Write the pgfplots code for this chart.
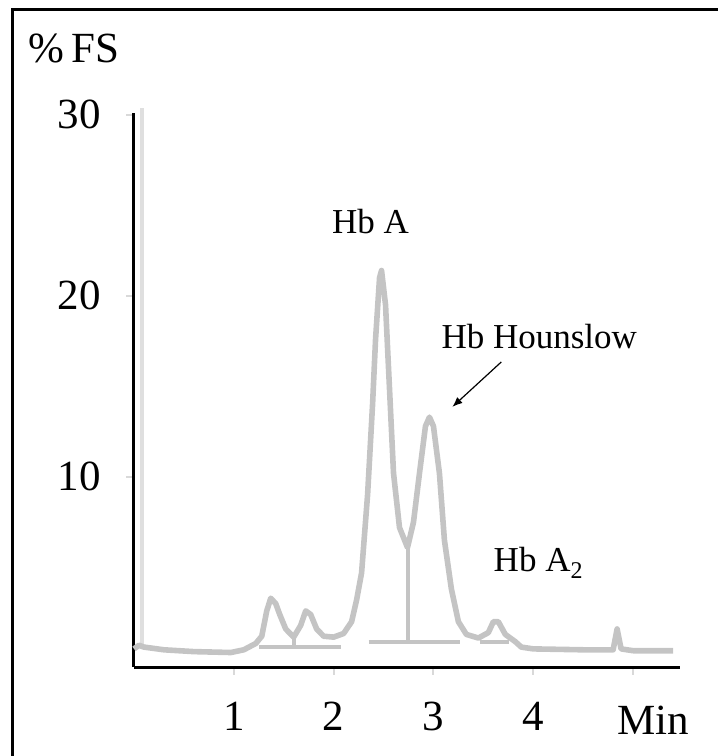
\documentclass[border=0pt]{standalone}
\usepackage{fontspec}
\setmainfont{Liberation Serif}
\usepackage{pgfplots}
\pgfplotsset{compat=1.18}
\usetikzlibrary{arrows.meta}
\definecolor{trace}{HTML}{C4C4C4}
\newcommand{\tickfont}{\fontsize{21.5}{24}\selectfont}
\newcommand{\annfont}{\fontsize{17.5}{20}\selectfont}

\begin{document}
\begin{tikzpicture}
\path[use as bounding box] (0,0) rectangle (359pt,378pt);
% outer frame, only left and top edges show in the picture
\draw[line width=1.5pt] (6pt,0) -- (6pt,373pt) -- (359pt,373pt);
\node[anchor=west, font=\tickfont, inner sep=0pt] at (14pt,354pt) {\%\,FS};
\node[font=\tickfont, inner sep=0pt] at (326.5pt,18pt) {Min};

\begin{axis}[
  at={(67pt,44.5pt)}, anchor=south west,
  scale only axis, width=273pt, height=277pt,
  xmin=0, xmax=5.47, ymin=-0.5, ymax=30.1,
  axis x line=bottom, axis y line=left,
  axis line style={line width=1.5pt, -},
  xtick={1,2,3,4,5}, xticklabels={1,2,3,4,{}},
  ytick={10,20,30},
  tick align=outside,
  major tick length=4pt,
  tick style={draw=gray!30, line width=1pt},
  ticklabel style={font=\tickfont},
  yticklabel style={xshift=-9pt},
  xticklabel style={yshift=-10pt},
  /pgf/number format/assume math mode=true,
  clip=false,
]
% light vertical trace next to the axis
\addplot[draw=trace!55, line width=2pt] coordinates {(0.08,0.5) (0.08,30.4)};
% integration baselines and drop lines
\addplot[draw=trace, line width=2pt] coordinates {(1.25,0.6) (2.07,0.6)};
\addplot[draw=trace, line width=2pt] coordinates {(2.35,0.9) (3.27,0.9)};
\addplot[draw=trace, line width=2pt] coordinates {(3.47,0.9) (3.76,0.9)};
\addplot[draw=trace, line width=2pt] coordinates {(2.74,0.9) (2.74,6.1)};
\addplot[draw=trace, line width=2pt] coordinates {(1.6,0.6) (1.6,1.15)};
% chromatogram
\addplot[draw=trace, line width=2.8pt, line join=round] coordinates {
(0.0,0.5)(0.05,0.7)(0.1,0.6)(0.3,0.45)(0.6,0.35)(0.97,0.3)(1.1,0.45)
(1.22,0.8)(1.28,1.2)(1.33,2.6)(1.37,3.3)(1.42,3.0)(1.46,2.4)(1.52,1.6)
(1.6,1.15)(1.67,1.8)(1.72,2.6)(1.77,2.4)(1.83,1.6)(1.9,1.2)(2.0,1.15)
(2.1,1.35)(2.18,2.0)(2.23,3.2)(2.28,4.7)(2.34,9)(2.39,14)(2.42,17.6)
(2.46,21.0)(2.48,21.4)(2.52,19.5)(2.55,16)(2.6,10.2)(2.66,7.2)(2.74,6.1)
(2.8,7.5)(2.86,10.2)(2.92,12.8)(2.96,13.3)(3.0,12.8)(3.06,10.2)(3.11,6.5)
(3.18,3.8)(3.25,2.0)(3.33,1.3)(3.45,1.1)(3.55,1.4)(3.6,2.0)(3.65,2.0)
(3.72,1.3)(3.82,0.9)(3.88,0.6)(4.0,0.5)(4.5,0.45)(4.8,0.45)(4.84,1.6)
(4.88,0.5)(5.0,0.4)(5.4,0.4)
};
\node[font=\annfont] at (axis cs:2.37,24.1) {Hb A};
\node[font=\annfont] at (axis cs:4.06,17.76) {Hb Hounslow};
\node[font=\annfont, anchor=west, inner sep=0pt] at (axis cs:3.6,5.25)
  {Hb A\raisebox{-0.45ex}{\fontsize{12}{13}\selectfont 2}};
\draw[-{Latex[length=5pt,width=4pt]}, line width=0.6pt] (axis cs:3.68,16.35) -- (axis cs:3.19,13.87);
\end{axis}
\end{tikzpicture}
\end{document}
